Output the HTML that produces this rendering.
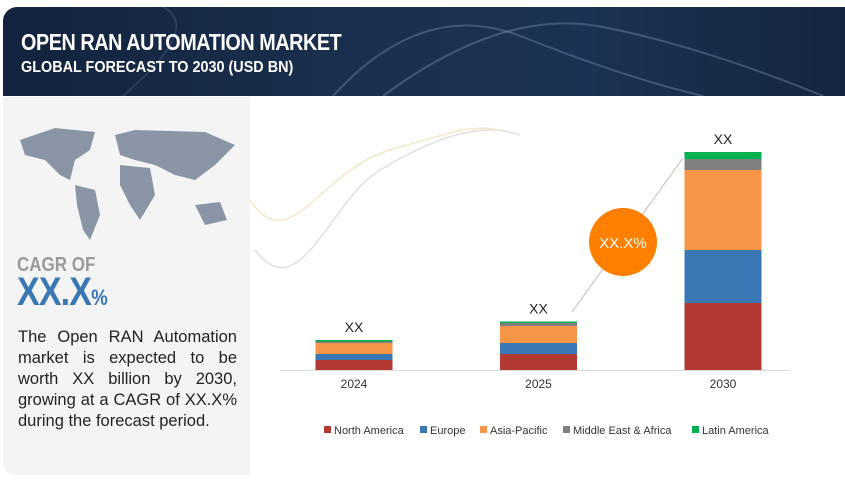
<!DOCTYPE html>
<html><head><meta charset="utf-8">
<style>
body{margin:0;width:845px;height:482px;background:#fff;position:relative;overflow:hidden;font-family:"Liberation Sans",sans-serif}
#hdr{position:absolute;left:3px;top:7px;width:842px;height:89px;border-radius:14px 0 0 0;background:linear-gradient(90deg,#13233d 0%,#1b3050 45%,#1a3253 70%,#15253f 100%);overflow:hidden}
#t1{position:absolute;left:18px;top:22px;color:#fff;font-size:23px;font-weight:bold;transform:scaleX(.86);transform-origin:left;letter-spacing:-.5px;white-space:nowrap}
#t2{position:absolute;left:18px;top:52px;color:#fff;font-size:16px;font-weight:bold;transform:scaleX(.9);transform-origin:left;white-space:nowrap}
#left{position:absolute;left:3px;top:97px;width:247px;height:378px;background:#f4f4f4;border-radius:0 0 0 12px}
#cagr{position:absolute;left:17px;top:254px;color:#9a9a9a;font-size:20px;font-weight:bold;transform:scaleX(.85);transform-origin:left}
#val{position:absolute;left:17px;top:270px;color:#3a78b5;font-size:40px;font-weight:bold;transform:scaleX(.85);transform-origin:left;letter-spacing:-1px}
#val span{font-size:22px}
#desc{position:absolute;left:18px;top:327px;width:219px;font-size:16.5px;line-height:21px;color:#222;text-align:justify}
</style></head><body>
<div id="hdr">
<svg width="842" height="89" style="position:absolute;left:0;top:0">
<path d="M330 89 Q420 -10 520 30 T700 89" stroke="#6d86a8" stroke-opacity=".45" fill="none" stroke-width="2"/>
<path d="M380 89 Q500 0 600 20 T820 89" stroke="#8ca2c0" stroke-opacity=".35" fill="none" stroke-width="2"/>
<path d="M120 89 Q200 20 160 0" stroke="#6d86a8" stroke-opacity=".3" fill="none" stroke-width="1.5"/>
</svg>
<div id="t1">OPEN RAN AUTOMATION MARKET</div>
<div id="t2">GLOBAL FORECAST TO 2030 (USD BN)</div>
</div>
<div id="left"></div>
<svg style="position:absolute;left:15px;top:120px" width="225" height="125">
<g fill="#8a96a6">
<path d="M5 20 L40 8 L80 12 L75 30 L60 40 L55 60 L45 55 L30 40 L10 35Z"/>
<path d="M60 65 L80 70 L85 95 L75 120 L68 110 L62 85Z"/>
<path d="M100 15 L120 10 L190 12 L220 25 L200 45 L180 60 L160 55 L140 45 L120 40 L105 35Z"/>
<path d="M105 45 L135 48 L140 75 L125 100 L115 85 L105 65Z"/>
<path d="M180 85 L205 82 L212 100 L190 105Z"/>
</g></svg>
<div id="cagr">CAGR OF</div>
<div id="val">XX.X<span>%</span></div>
<div id="desc">The Open RAN Automation market is expected to be worth XX billion by 2030, growing at a CAGR of XX.X% during the forecast period.</div>
<svg id="chart" width="845" height="482" style="position:absolute;left:0;top:0"></svg>
<script>
const years=["2024","2025","2030"];
const northAmerica=[10,16,67];
const europe=[6,11,53];
const asiaPacific=[11,17,80];
const middleEastAfrica=[1.5,3,11];
const latinAmerica=[1.5,1.5,7];
const totalLabels=["XX","XX","XX"];
const seriesNames=["North America","Europe","Asia-Pacific","Middle East & Africa","Latin America"];
const seriesColors=["#b33a33","#3a78b5","#f79646","#808080","#00b050"];
const series=[northAmerica,europe,asiaPacific,middleEastAfrica,latinAmerica];
const NS="http://www.w3.org/2000/svg";
const svg=document.getElementById('chart');
const baseY=370, scaleY=1, barW=77;
const xC=i=>354+i*184.5;
function yPos(v){return baseY-v*scaleY;}
function mk(t,a){const e=document.createElementNS(NS,t);for(const k in a)e.setAttribute(k,a[k]);svg.appendChild(e);return e;}
const c=mk('path',{d:"M255 250 C300 310 330 200 380 170 S480 120 520 135",stroke:"#e0e0e0",fill:"none","stroke-width":"1.5"});

const c2=mk('path',{d:"M250 200 C290 260 320 170 390 150 S470 125 500 130",stroke:"#f3e7c8",fill:"none","stroke-width":"1.5"});

const ax=mk('line',{x1:280,x2:790,y1:baseY+0.5,y2:baseY+0.5,stroke:"#d9d9d9","stroke-width":"1"});

const arr=mk('line',{x1:572,y1:312,x2:683,y2:158,stroke:"#c8c8c8","stroke-width":"1.2"});

years.forEach((yr,i)=>{
  const cx=xC(i);let acc=0;
  series.forEach((s,k)=>{
    const y0=yPos(acc),y1=yPos(acc+s[i]);
    const r=mk('rect',{x:cx-barW/2,y:y1,width:barW,height:y0-y1,fill:seriesColors[k]});
    
    
    acc+=s[i];
  });
  const t=mk('text',{x:cx,y:yPos(acc)-8,"text-anchor":"middle","font-size":"14",fill:"#222"});
  t.textContent=totalLabels[i];
  
  
  const l=mk('text',{x:cx,y:388,"text-anchor":"middle","font-size":"12",fill:"#333"});
  l.textContent=yr;
  
  
});
const circ=mk('circle',{cx:623,cy:242,r:34,fill:"#ff7f00"});

const ct=mk('text',{x:623,y:248,"text-anchor":"middle","font-size":"15",fill:"#fff"});
ct.textContent="XX.X%";

const lx=[324,420,480,563,692];
seriesNames.forEach((n,k)=>{
  const r=mk('rect',{x:lx[k],y:426,width:7,height:7,fill:seriesColors[k]});
  
  const t=mk('text',{x:lx[k]+10,y:434,"font-size":"11",fill:"#333"});
  t.textContent=n;
  
});
</script>
</body></html>
